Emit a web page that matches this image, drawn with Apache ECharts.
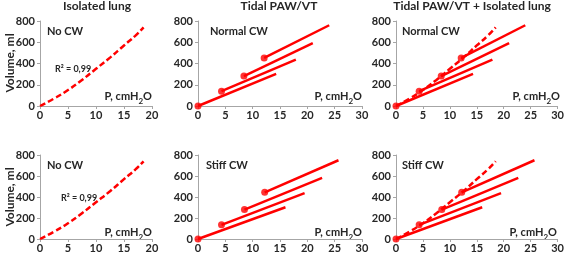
<!DOCTYPE html>
<html>
<head>
<meta charset="utf-8">
<script src="https://cdn.jsdelivr.net/npm/echarts@6/dist/echarts.min.js"></script>
<style>
html,body{margin:0;padding:0;background:#fff;}
#chart{width:567px;height:257px;}
</style>
</head>
<body>
<div id="chart"></div>
<script>
// Isolated lung pressure-volume curve
const isoP = [0, 2.5, 5, 7.5, 10, 12.5, 15, 17, 18.5];
const isoV = [0, 70, 150, 245, 350, 455, 570, 660, 740];

// Tidal PAW/VT, normal chest wall: start markers and line ends
const normStartP = [0, 4.3, 8.4, 12.1];
const normStartV = [0, 140, 282, 452];
const normEndP = [14.3, 17.9, 21.0, 24.0];
const normEndV = [302, 437, 592, 760];

// Tidal PAW/VT, stiff chest wall
const stiffStartP = [0, 4.3, 8.5, 12.2];
const stiffStartV = [0, 135, 280, 445];
const stiffEndP = [16.0, 19.5, 22.7, 25.7];
const stiffEndV = [302, 437, 583, 750];

const panelTitles = ['Isolated lung', 'Tidal PAW/VT', 'Tidal PAW/VT + Isolated lung'];

const RED = '#ff0000';
const TXT = '#262626';
const FONT = 'Lato, "Open Sans", sans-serif';

const grids = [
  {left: 40, top: 21, width: 112, height: 85},
  {left: 198, top: 21, width: 164, height: 85},
  {left: 396, top: 21, width: 163, height: 85},
  {left: 40, top: 155, width: 112, height: 84},
  {left: 198, top: 155, width: 164, height: 84},
  {left: 396, top: 155, width: 163, height: 84}
];

const xMax = [20, 30, 30, 20, 30, 30];

const xAxes = grids.map((g, i) => ({
  type: 'value', gridIndex: i, min: 0, max: xMax[i], interval: 5,
  splitLine: {show: false},
  axisLine: {show: true, lineStyle: {color: '#a6a6a6', width: 1}},
  axisTick: {show: true, length: 3, lineStyle: {color: '#a6a6a6'}},
  axisLabel: {color: TXT, fontSize: 11, fontWeight: 'bold', fontFamily: FONT, margin: 4}
}));
const yAxes = grids.map((g, i) => ({
  type: 'value', gridIndex: i, min: 0, max: 800, interval: 200,
  splitLine: {show: false},
  axisLine: {show: true, lineStyle: {color: '#a6a6a6', width: 1}},
  axisTick: {show: true, length: 3, lineStyle: {color: '#a6a6a6'}},
  axisLabel: {color: TXT, fontSize: 11, fontWeight: 'bold', fontFamily: FONT, margin: 5}
}));

const series = [];
function isoSeries(idx) {
  series.push({
    type: 'line', xAxisIndex: idx, yAxisIndex: idx, smooth: true, symbol: 'none',
    data: isoP.map((p, k) => [p, isoV[k]]),
    lineStyle: {color: RED, width: 2.5, type: [6, 3]}, z: 3
  });
}
function tidalSeries(idx, sP, sV, eP, eV) {
  for (let k = 0; k < sP.length; k++) {
    series.push({
      type: 'line', xAxisIndex: idx, yAxisIndex: idx, symbol: 'none',
      data: [[sP[k], sV[k]], [eP[k], eV[k]]],
      lineStyle: {color: RED, width: 2.5}, z: 4
    });
  }
  series.push({
    type: 'scatter', xAxisIndex: idx, yAxisIndex: idx, symbol: 'circle', symbolSize: 7,
    data: sP.map((p, k) => [p, sV[k]]),
    itemStyle: {color: RED}, z: 5
  });
}
isoSeries(0);
tidalSeries(1, normStartP, normStartV, normEndP, normEndV);
isoSeries(2);
tidalSeries(2, normStartP, normStartV, normEndP, normEndV);
isoSeries(3);
tidalSeries(4, stiffStartP, stiffStartV, stiffEndP, stiffEndV);
isoSeries(5);
tidalSeries(5, stiffStartP, stiffStartV, stiffEndP, stiffEndV);

const graphic = [];
function txt(x, y, text, size, align) {
  graphic.push({type: 'text', x: x, y: y, style: {
    text: text, fill: TXT, font: 'bold ' + size + 'px ' + FONT,
    textAlign: align || 'left', textVerticalAlign: 'middle'}});
}
function pLabel(x, y) {
  graphic.push({type: 'text', x: x, y: y, style: {
    text: '{a|P, cmH}{s|2}{a|O}', textAlign: 'right', textVerticalAlign: 'middle',
    rich: {
      a: {fill: TXT, fontSize: 11, fontWeight: 'bold', fontFamily: FONT, lineHeight: 14, verticalAlign: 'top'},
      s: {fill: TXT, fontSize: 8, fontWeight: 'bold', fontFamily: FONT, lineHeight: 6, verticalAlign: 'bottom'}
    }}});
}
// panel titles
txt(97, 6, panelTitles[0], 12, 'center');
txt(279, 6, panelTitles[1], 12, 'center');
txt(472, 6, panelTitles[2], 12, 'center');
// y axis titles
[63, 197].forEach(cy => {
  graphic.push({type: 'text', x: 10, y: cy, rotation: Math.PI / 2, style: {
    text: 'Volume, ml', fill: TXT, font: 'bold 12px ' + FONT,
    textAlign: 'center', textVerticalAlign: 'middle'}});
});
// annotations
txt(47, 31, 'No CW', 11);
txt(47, 165, 'No CW', 11);
txt(210, 31, 'Normal CW', 11);
txt(402, 31, 'Normal CW', 11);
txt(206, 165, 'Stiff CW', 11);
txt(402, 165, 'Stiff CW', 11);
txt(55, 69, 'R\u00b2 = 0,99', 9);
txt(61, 198, 'R\u00b2 = 0,99', 9);
pLabel(152, 98);
pLabel(362, 98);
pLabel(560, 98);
pLabel(152, 234);
pLabel(362, 234);
pLabel(557, 234);

const chart = echarts.init(document.getElementById('chart'), null, {renderer: 'canvas'});
chart.setOption({
  animation: false,
  backgroundColor: '#ffffff',
  grid: grids,
  xAxis: xAxes,
  yAxis: yAxes,
  series: series,
  graphic: graphic
});
</script>
</body>
</html>
